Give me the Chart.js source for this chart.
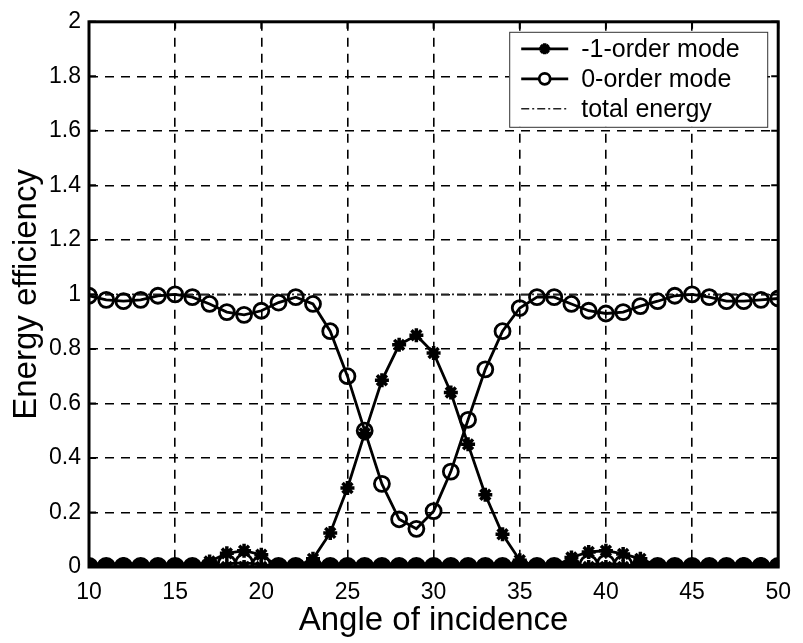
<!DOCTYPE html>
<html>
<head>
<meta charset="utf-8">
<script src="https://cdn.jsdelivr.net/npm/chart.js@4"></script>
<style>
  html, body { margin: 0; padding: 0; background: #fff; }
  canvas { display: block; }
</style>
</head>
<body>
<canvas id="energyChart" width="803" height="643"></canvas>
<script>
// Angle of incidence (degrees)
const angles = [10, 11, 12, 13, 14, 15, 16, 17, 18, 19, 20, 21, 22, 23, 24, 25, 26, 27, 28, 29, 30,
                31, 32, 33, 34, 35, 36, 37, 38, 39, 40, 41, 42, 43, 44, 45, 46, 47, 48, 49, 50];

// -1-order mode efficiency
const minusOneOrder = [0, 0, 0.01, 0.005, 0, 0, 0, 0.02, 0.05, 0.06, 0.045, 0, 0, 0.03, 0.125, 0.29, 0.49, 0.685, 0.815, 0.85, 0.785,
                       0.64, 0.45, 0.265, 0.12, 0.025, 0, 0, 0.035, 0.055, 0.06, 0.048, 0.03, 0.005, 0, 0, 0, 0, 0.01, 0.01, 0];

// 0-order mode efficiency
const zeroOrder = [0.995, 0.98, 0.975, 0.98, 0.995, 1.0, 0.99, 0.965, 0.935, 0.925, 0.94, 0.97, 0.99, 0.965, 0.865, 0.70, 0.50, 0.305, 0.175, 0.14, 0.205,
                   0.35, 0.54, 0.725, 0.865, 0.95, 0.99, 0.99, 0.965, 0.94, 0.93, 0.935, 0.957, 0.975, 0.995, 1.0, 0.99, 0.975, 0.975, 0.98, 0.985];

// total energy
const totalEnergy = [1, 1, 1, 1, 1, 1, 1, 1, 1, 1, 1, 1, 1, 1, 1, 1, 1, 1, 1, 1, 1,
                     1, 1, 1, 1, 1, 1, 1, 1, 1, 1, 1, 1, 1, 1, 1, 1, 1, 1, 1, 1];

// unlabeled curves lying on the baseline (other polarisation)
const baselineStars = [0, 0, 0, 0, 0, 0, 0, 0, 0, 0, 0, 0, 0, 0, 0, 0, 0, 0, 0, 0, 0,
                       0, 0, 0, 0, 0, 0, 0, 0, 0, 0, 0, 0, 0, 0, 0, 0, 0, 0, 0, 0];
const baselineCircles = [0, 0, 0, 0, 0, 0, 0, 0, 0.012, 0.015, 0.01, 0, 0, 0, 0, 0, 0, 0, 0, 0, 0,
                         0, 0, 0, 0, 0, 0, 0, 0, 0.01, 0.012, 0.01, 0, 0, 0, 0, 0, 0, 0, 0, 0];

// axis ticks
const xTicks = [10, 15, 20, 25, 30, 35, 40, 45, 50];
const yTicks = [0, 0.2, 0.4, 0.6, 0.8, 1, 1.2, 1.4, 1.6, 1.8, 2];

const FONT = "'Liberation Sans', Arial, Helvetica, sans-serif";

function toPoints(values) {
    return angles.map((a, i) => ({ x: a, y: values[i] }));
}

/**
 * Draws MATLAB-style inner ticks, the box frame and the legend inside the axes.
 */
const matlabFrame = {
    id: 'matlabFrame',
    afterDatasetsDraw(chart) {
        const { ctx, chartArea: a, scales: { x, y } } = chart;
        ctx.save();
        ctx.setLineDash([]);
        ctx.strokeStyle = '#000';

        // inner ticks on all four sides
        ctx.lineWidth = 2;
        ctx.beginPath();
        xTicks.forEach(v => {
            const px = x.getPixelForValue(v);
            ctx.moveTo(px, a.bottom); ctx.lineTo(px, a.bottom - 7);
            ctx.moveTo(px, a.top); ctx.lineTo(px, a.top + 7);
        });
        yTicks.forEach(v => {
            const py = y.getPixelForValue(v);
            ctx.moveTo(a.left, py); ctx.lineTo(a.left + 7, py);
            ctx.moveTo(a.right, py); ctx.lineTo(a.right - 7, py);
        });
        ctx.stroke();

        // box
        ctx.lineWidth = 3;
        ctx.strokeRect(a.left, a.top, a.right - a.left, a.bottom - a.top);

        // legend
        const entries = chart.data.datasets.filter(d => d.label);
        const boxW = 258, rowH = 30, boxH = entries.length * rowH + 5;
        const bx = a.right - 11 - boxW, by = a.top + 10;
        ctx.fillStyle = '#fff';
        ctx.fillRect(bx, by, boxW, boxH);
        ctx.lineWidth = 1;
        ctx.strokeStyle = '#333';
        ctx.strokeRect(bx + 0.5, by + 0.5, boxW, boxH);

        ctx.font = `25px ${FONT}`;
        ctx.textBaseline = 'middle';
        entries.forEach((d, i) => {
            const cy = by + 17 + i * rowH;
            const x0 = bx + 12, x1 = bx + 59;
            ctx.strokeStyle = d.borderColor;
            ctx.lineWidth = d.borderWidth;
            ctx.setLineDash(d.borderDash || []);
            ctx.beginPath();
            ctx.moveTo(x0, cy); ctx.lineTo(x1, cy);
            ctx.stroke();
            ctx.setLineDash([]);
            if (d.pointRadius > 0) {
                ctx.strokeStyle = d.pointBorderColor;
                ctx.fillStyle = '#fff';
                ctx.lineWidth = d.pointBorderWidth;
                Chart.helpers.drawPoint(ctx, {
                    pointStyle: d.pointStyle,
                    radius: 5.5,
                    borderWidth: d.pointBorderWidth
                }, (x0 + x1) / 2, cy);
            }
            ctx.fillStyle = '#000';
            ctx.fillText(d.label, bx + 72, cy + 1);
        });
        ctx.restore();
    }
};

function initEnergyChart() {
    const ctx = document.getElementById('energyChart').getContext('2d');

    new Chart(ctx, {
        type: 'line',
        data: {
            datasets: [{
                label: '-1-order mode',
                data: toPoints(minusOneOrder),
                borderColor: '#000',
                borderWidth: 2.8,
                pointStyle: 'star',
                pointRadius: 7,
                pointBorderWidth: 3.5,
                pointBorderColor: '#000',
                pointBackgroundColor: '#000'
            }, {
                label: '0-order mode',
                data: toPoints(zeroOrder),
                borderColor: '#000',
                borderWidth: 2.8,
                pointStyle: 'circle',
                pointRadius: 7.5,
                pointBorderWidth: 2.8,
                pointBorderColor: '#000',
                pointBackgroundColor: 'rgba(0,0,0,0)'
            }, {
                label: 'total energy',
                data: toPoints(totalEnergy),
                borderColor: '#222',
                borderWidth: 1.6,
                borderDash: [8, 3, 2, 3],
                pointRadius: 0
            }, {
                label: '',
                data: toPoints(baselineStars),
                borderColor: '#000',
                borderWidth: 2.8,
                pointStyle: 'star',
                pointRadius: 7,
                pointBorderWidth: 3.5,
                pointBorderColor: '#000'
            }, {
                label: '',
                data: toPoints(baselineCircles),
                borderColor: '#000',
                borderWidth: 2.8,
                pointStyle: 'circle',
                pointRadius: 8.5,
                pointBorderWidth: 2.8,
                pointBorderColor: '#000',
                // filled where it sits on the axis, open on the small bumps
                pointBackgroundColor: c => (c.raw && c.raw.y > 0.005 ? 'rgba(0,0,0,0)' : '#000')
            }]
        },
        options: {
            responsive: false,
            animation: false,
            layout: { padding: { top: 19, right: 16, left: 0, bottom: 0 } },
            elements: { line: { tension: 0 } },
            plugins: {
                legend: { display: false },
                tooltip: { enabled: false }
            },
            scales: {
                x: {
                    type: 'linear',
                    min: 10,
                    max: 50,
                    afterBuildTicks: s => { s.ticks = xTicks.map(v => ({ value: v })); },
                    afterFit: s => { s.height = 76; },
                    grid: { color: '#000', lineWidth: 1.6, drawTicks: false },
                    border: { display: false, dash: [9, 7] },
                    ticks: {
                        color: '#000',
                        padding: 12,
                        maxRotation: 0,
                        font: { family: FONT, size: 23 }
                    },
                    title: {
                        display: true,
                        text: 'Angle of incidence',
                        color: '#000',
                        font: { family: FONT, size: 33 },
                        padding: { top: 0, bottom: 2 }
                    }
                },
                y: {
                    min: 0,
                    max: 2,
                    afterBuildTicks: s => { s.ticks = yTicks.map(v => ({ value: v })); },
                    afterFit: s => { s.width = 89; },
                    grid: { color: '#000', lineWidth: 1.6, drawTicks: false },
                    border: { display: false, dash: [9, 7] },
                    ticks: {
                        color: '#000',
                        padding: 8,
                        font: { family: FONT, size: 23 },
                        callback: v => String(Number(v.toFixed(1)))
                    },
                    title: {
                        display: true,
                        text: 'Energy efficiency',
                        color: '#000',
                        font: { family: FONT, size: 33 },
                        padding: { top: 7, bottom: 0 }
                    }
                }
            }
        },
        plugins: [matlabFrame]
    });
}

initEnergyChart();
</script>
</body>
</html>
